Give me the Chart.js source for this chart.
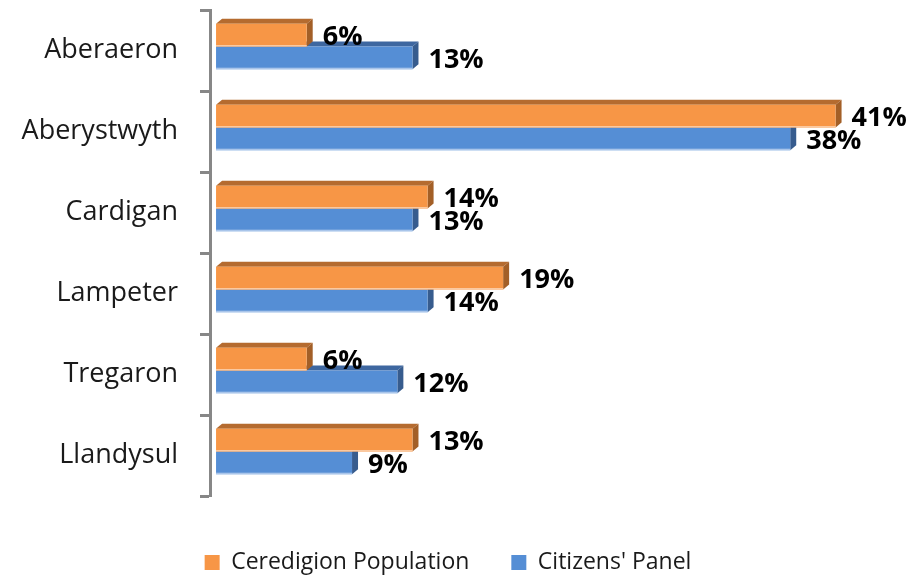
<!DOCTYPE html>
<html>
<head>
<meta charset="utf-8">
<script src="https://cdn.jsdelivr.net/npm/chart.js@4.4.0/dist/chart.umd.min.js"></script>
<style>
  html, body { margin: 0; padding: 0; background: #ffffff; }
  #wrap { width: 912px; height: 581px; position: relative; }
</style>
</head>
<body>
<div id="wrap"><canvas id="c" width="912" height="581"></canvas></div>
<script>
// ---- data ----
const categories = ['Aberaeron', 'Aberystwyth', 'Cardigan', 'Lampeter', 'Tregaron', 'Llandysul'];
const populationValues = [6, 41, 14, 19, 6, 13];
const panelValues = [13, 38, 13, 14, 12, 9];
const seriesNames = ['Ceredigion Population', "Citizens' Panel"];
const valueSuffix = '%';

// ---- style ----
const FONT = "'Open Sans', 'DejaVu Sans', sans-serif";
const ORANGE = { front: '#F79646', top: '#B56B2F', side: '#A35F27', edge: '#FBC9A0' };
const BLUE = { front: '#558ED5', top: '#3E67A0', side: '#375C8E', edge: '#A9C5EA' };
const DEPTH_X = 6, DEPTH_Y = 5, SHIFT_Y = -4;

const faces3d = {
  id: 'faces3d',
  beforeDatasetsDraw(chart) {
    const ctx = chart.ctx;
    ctx.save();
    ctx.translate(0, SHIFT_Y);
    [1, 0].forEach(di => {
      const meta = chart.getDatasetMeta(di);
      const pal = di === 0 ? ORANGE : BLUE;
      meta.data.forEach(el => {
        const top = el.y - el.height / 2, bottom = el.y + el.height / 2;
        const x0 = el.base, x1 = el.x;
        ctx.fillStyle = pal.top;
        ctx.beginPath();
        ctx.moveTo(x0, top);
        ctx.lineTo(x0 + DEPTH_X, top - DEPTH_Y);
        ctx.lineTo(x1 + DEPTH_X, top - DEPTH_Y);
        ctx.lineTo(x1, top);
        ctx.closePath();
        ctx.fill();
        ctx.fillStyle = pal.side;
        ctx.beginPath();
        ctx.moveTo(x1, top);
        ctx.lineTo(x1 + DEPTH_X, top - DEPTH_Y);
        ctx.lineTo(x1 + DEPTH_X, bottom - DEPTH_Y);
        ctx.lineTo(x1, bottom);
        ctx.closePath();
        ctx.fill();
      });
    });
  },
  afterDatasetsDraw(chart) {
    const ctx = chart.ctx;
    [1, 0].forEach(di => {
      const meta = chart.getDatasetMeta(di);
      const pal = di === 0 ? ORANGE : BLUE;
      meta.data.forEach(el => {
        const bottom = el.y + el.height / 2;
        ctx.fillStyle = pal.edge;
        ctx.fillRect(el.base, bottom - 1.5, el.x - el.base, 1.5);
      });
    });
    ctx.restore();
    ctx.save();
    ctx.translate(0, SHIFT_Y);
    ctx.font = "bold 27px " + FONT;
    ctx.fillStyle = '#000000';
    ctx.textAlign = 'left';
    ctx.textBaseline = 'middle';
    chart.data.datasets.forEach((ds, di) => {
      const meta = chart.getDatasetMeta(di);
      meta.data.forEach((el, i) => {
        ctx.fillText(ds.data[i] + valueSuffix, el.x + DEPTH_X + 10, el.y + 2);
      });
    });
    ctx.restore();
  }
};

new Chart(document.getElementById('c'), {
  type: 'bar',
  data: {
    labels: categories,
    datasets: [
      { label: seriesNames[0], data: populationValues, backgroundColor: ORANGE.front,
        categoryPercentage: 0.56, barPercentage: 1.0 },
      { label: seriesNames[1], data: panelValues, backgroundColor: BLUE.front,
        categoryPercentage: 0.56, barPercentage: 1.0 }
    ]
  },
  options: {
    indexAxis: 'y',
    responsive: false,
    animation: false,
    devicePixelRatio: 1,
    layout: { padding: { top: 10, right: 16, bottom: -3, left: 0 } },
    scales: {
      x: {
        min: -0.4, max: 45,
        display: true,
        afterFit(scale) { scale.paddingLeft = 0; scale.paddingRight = 0; },
        border: { display: false },
        grid: { display: true, drawOnChartArea: false, drawTicks: true, tickLength: 13, tickColor: 'rgba(0,0,0,0)' },
        ticks: { display: false }
      },
      y: {
        afterFit(scale) { scale.width = 210; scale.paddingTop = 0; scale.paddingBottom = 0; },
        border: { display: true, color: '#878787', width: 3 },
        grid: { display: true, drawOnChartArea: false, drawTicks: true, tickLength: 10, tickColor: '#878787', tickWidth: 3, offset: true },
        ticks: { color: '#1a1a1a', font: { family: FONT, size: 27 }, padding: 22 }
      }
    },
    plugins: {
      legend: {
        position: 'bottom',
        labels: {
          boxWidth: 15, boxHeight: 15, padding: 42,
          color: '#1a1a1a',
          font: { family: FONT, size: 23 }
        }
      },
      tooltip: { enabled: false }
    }
  },
  plugins: [faces3d]
});
</script>
</body>
</html>
